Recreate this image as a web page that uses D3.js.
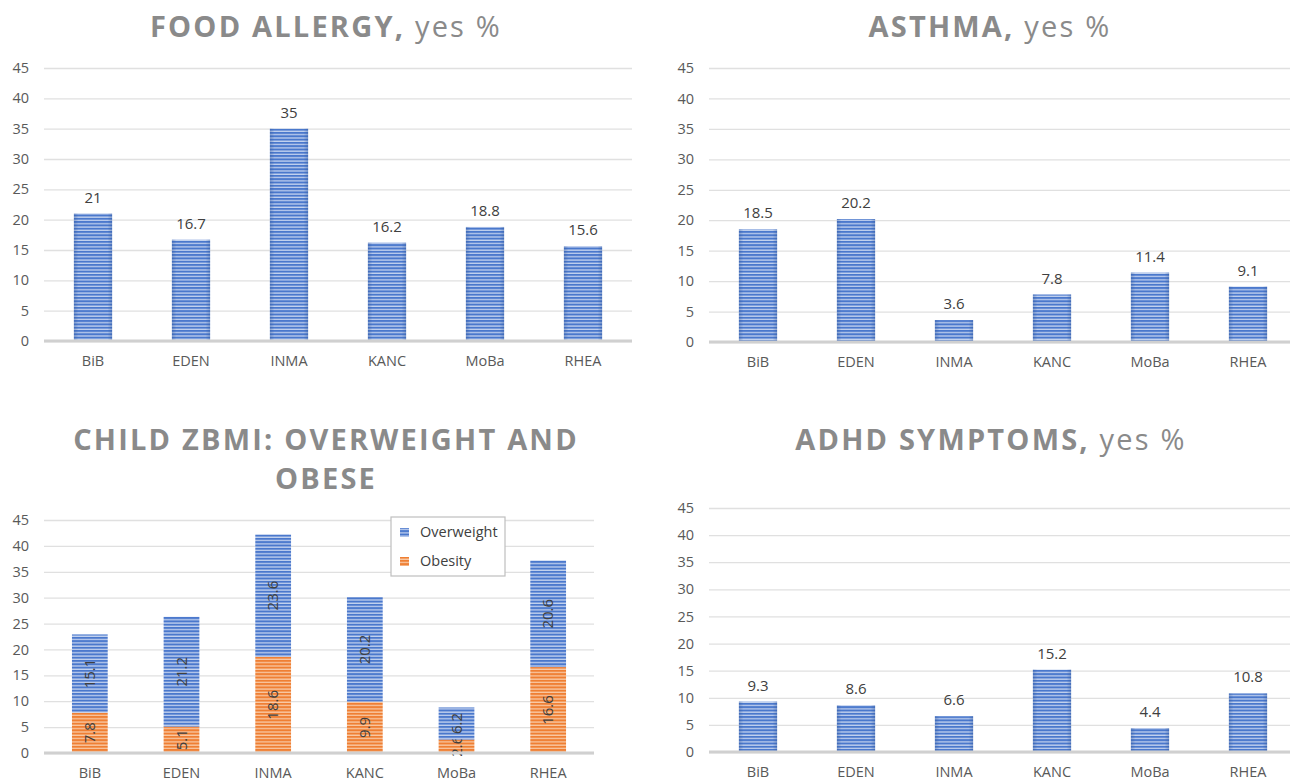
<!DOCTYPE html>
<html>
<head>
<meta charset="utf-8">
<script src="https://cdn.jsdelivr.net/npm/d3@7"></script>
<style>
  body { margin: 0; background: #fff; }
  svg { display: block; font-family: "Open Sans", sans-serif; }
</style>
</head>
<body>
<div id="container"></div>
<script>
/* CONSTANTS AND GLOBALS */
const width = 1290;
const height = 781;

/* DATA */
const cohorts = ["BiB", "EDEN", "INMA", "KANC", "MoBa", "RHEA"];
const yTicks = [0, 5, 10, 15, 20, 25, 30, 35, 40, 45];
const foodAllergy = [21, 16.7, 35, 16.2, 18.8, 15.6];
const asthma = [18.5, 20.2, 3.6, 7.8, 11.4, 9.1];
const adhd = [9.3, 8.6, 6.6, 15.2, 4.4, 10.8];
const obesity = [7.8, 5.1, 18.6, 9.9, 2.6, 16.6];
const overweight = [15.1, 21.2, 23.6, 20.2, 6.2, 20.6];
const seriesNames = ["Overweight", "Obesity"];

const svg = d3.select("#container")
  .append("svg")
  .attr("width", width)
  .attr("height", height);

/* STRIPED FILLS */
const defs = svg.append("defs");
function stripe(id, dark, light) {
  const p = defs.append("pattern")
    .attr("id", id)
    .attr("patternUnits", "userSpaceOnUse")
    .attr("width", 6).attr("height", 3.3);
  p.append("rect").attr("width", 6).attr("height", 3.3).attr("fill", light);
  p.append("rect").attr("width", 6).attr("height", 2).attr("fill", dark);
}
stripe("blueStripe", "#4a78cc", "#c3d2ef");
stripe("orangeStripe", "#ef7f33", "#f9c9a5");

const edge = defs.append("linearGradient").attr("id", "edgeShade");
edge.append("stop").attr("offset", "0%").attr("stop-color", "#2f5597").attr("stop-opacity", 0.35);
edge.append("stop").attr("offset", "12%").attr("stop-color", "#2f5597").attr("stop-opacity", 0);
edge.append("stop").attr("offset", "88%").attr("stop-color", "#2f5597").attr("stop-opacity", 0);
edge.append("stop").attr("offset", "100%").attr("stop-color", "#2f5597").attr("stop-opacity", 0.35);

/* PANEL DRAWER */
function panel(cfg) {
  const g = svg.append("g");

  const x = d3.scaleBand()
    .domain(cohorts)
    .range([cfg.left, cfg.right])
    .paddingInner(0.61)
    .paddingOuter(0.305);

  const y = d3.scaleLinear()
    .domain([0, 45])
    .range([cfg.bottom, cfg.top]);

  // title
  const t = g.append("text")
    .attr("x", cfg.cx)
    .attr("text-anchor", "middle")
    .attr("fill", "#8a8a8a")
    .style("font-size", "29px")
    .style("letter-spacing", "2.2px");
  cfg.title.forEach((line, i) => {
    const ts = t.append("tspan").attr("x", cfg.cx).attr("y", cfg.titleY + i * 39);
    ts.append("tspan").attr("font-weight", 700).text(line[0]);
    if (line[1]) ts.append("tspan").attr("font-weight", 400).text(line[1]);
  });

  // gridlines and tick labels
  const yAxis = d3.axisLeft(y)
    .tickValues(yTicks)
    .tickSize(-(Math.min(cfg.right, cfg.gridEnd) - cfg.left))
    .tickPadding(15);
  const ga = g.append("g")
    .attr("transform", `translate(${cfg.left},0)`)
    .call(yAxis);
  ga.select(".domain").remove();
  ga.selectAll(".tick line").attr("stroke", "#e0e0e0").attr("stroke-width", 1.3);
  ga.selectAll(".tick text")
    .attr("fill", "#595959")
    .style("font-size", "14.5px")
    .style("font-family", "Open Sans, sans-serif");

  // x labels
  const xAxis = d3.axisBottom(x).tickSize(0).tickPadding(15);
  const gx = g.append("g")
    .attr("transform", `translate(0,${cfg.bottom})`)
    .call(xAxis);
  gx.select(".domain").remove();
  gx.selectAll(".tick text")
    .attr("fill", "#595959")
    .style("font-size", "14.5px")
    .style("font-family", "Open Sans, sans-serif");

  return { g, x, y };
}

function baseline(p, cfg) {
  p.g.append("line")
    .attr("x1", cfg.left).attr("x2", Math.min(cfg.right, cfg.gridEnd))
    .attr("y1", p.y(0)).attr("y2", p.y(0))
    .attr("stroke", "#d0d0d0").attr("stroke-width", 3);
}

function simpleBars(cfg, values) {
  const p = panel(cfg);
  const data = cohorts.map((c, i) => ({ c, v: values[i] }));
  const bars = p.g.append("g").selectAll("g").data(data).join("g");
  bars.append("rect")
    .attr("x", d => p.x(d.c))
    .attr("y", d => p.y(d.v))
    .attr("width", p.x.bandwidth())
    .attr("height", d => p.y(0) - p.y(d.v))
    .attr("fill", "url(#blueStripe)");
  bars.append("rect")
    .attr("x", d => p.x(d.c))
    .attr("y", d => p.y(d.v))
    .attr("width", p.x.bandwidth())
    .attr("height", d => p.y(0) - p.y(d.v))
    .attr("fill", "url(#edgeShade)");
  bars.append("text")
    .attr("x", d => p.x(d.c) + p.x.bandwidth() / 2)
    .attr("y", d => p.y(d.v) - 11)
    .attr("text-anchor", "middle")
    .attr("fill", "#404040")
    .style("font-size", "15px")
    .text(d => d.v);
  baseline(p, cfg);
}

/* FOOD ALLERGY */
simpleBars({
  left: 44, right: 632, gridEnd: 632, top: 68, bottom: 341,
  cx: 326, titleY: 37, title: [["FOOD ALLERGY,", " yes %"]]
}, foodAllergy);

/* ASTHMA */
simpleBars({
  left: 709, right: 1297, gridEnd: 1290, top: 68, bottom: 342,
  cx: 990, titleY: 37, title: [["ASTHMA,", " yes %"]]
}, asthma);

/* ADHD */
simpleBars({
  left: 709, right: 1297, gridEnd: 1290, top: 508, bottom: 752,
  cx: 991, titleY: 450, title: [["ADHD SYMPTOMS,", " yes %"]]
}, adhd);

/* CHILD ZBMI (stacked) */
(function () {
  const cfg = {
    left: 44, right: 594, gridEnd: 594, top: 520, bottom: 753,
    cx: 326, titleY: 450, title: [["CHILD ZBMI: OVERWEIGHT AND"], ["OBESE"]]
  };
  const p = panel(cfg);
  const rows = cohorts.map((c, i) => ({ c, Obesity: obesity[i], Overweight: overweight[i] }));
  const stack = d3.stack().keys(["Obesity", "Overweight"])(rows);
  const fills = { Obesity: "url(#orangeStripe)", Overweight: "url(#blueStripe)" };

  const layers = p.g.append("g").selectAll("g").data(stack).join("g");
  layers.selectAll("rect")
    .data(s => s.map(d => ({ key: s.key, d })))
    .join("rect")
    .attr("x", o => p.x(o.d.data.c))
    .attr("y", o => p.y(o.d[1]))
    .attr("width", p.x.bandwidth())
    .attr("height", o => p.y(o.d[0]) - p.y(o.d[1]))
    .attr("fill", o => fills[o.key]);

  layers.selectAll("text")
    .data(s => s.map(d => ({ key: s.key, d })))
    .join("text")
    .attr("transform", o => {
      const cx = p.x(o.d.data.c) + p.x.bandwidth() / 2;
      const cy = p.y((o.d[0] + o.d[1]) / 2);
      return `translate(${cx},${cy}) rotate(-90)`;
    })
    .attr("text-anchor", "middle")
    .attr("dy", "0.35em")
    .attr("fill", "#404040")
    .style("font-size", "15px")
    .text(o => o.d.data[o.key]);

  baseline(p, cfg);

  // legend
  const lg = p.g.append("g").attr("transform", "translate(391,517)");
  lg.append("rect").attr("width", 114).attr("height", 59)
    .attr("fill", "#fff").attr("stroke", "#bfbfbf").attr("stroke-width", 1.2);
  seriesNames.forEach((name, i) => {
    lg.append("rect").attr("x", 9).attr("y", 11 + i * 29).attr("width", 9).attr("height", 9)
      .attr("fill", name === "Overweight" ? "url(#blueStripe)" : "url(#orangeStripe)");
    lg.append("text").attr("x", 29).attr("y", 20 + i * 29)
      .attr("fill", "#404040").style("font-size", "14.5px").text(name);
  });
})();
</script>
</body>
</html>
